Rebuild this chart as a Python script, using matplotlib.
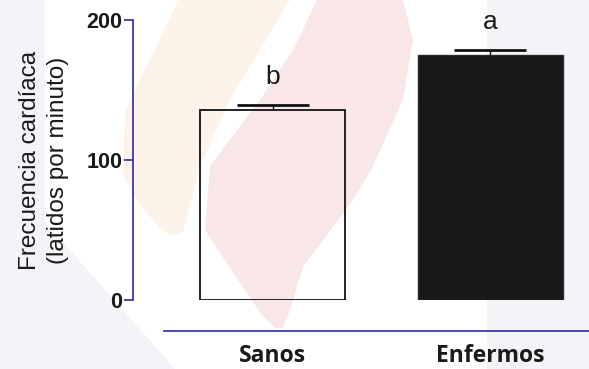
import matplotlib
matplotlib.use("Agg")
import matplotlib.pyplot as plt
from matplotlib.patches import Polygon

# Data
categories = ["Sanos", "Enfermos"]
means = [136.0, 175.0]
sem = [3.3, 3.6]
letters = ["b", "a"]
y_ticks = [0, 100, 200]

W, H = 589, 369
fig = plt.figure(figsize=(W / 100, H / 100), dpi=100)
fig.patch.set_facecolor("white")


def px(points):
    """Pixel coordinates (origin top-left) -> figure fraction."""
    return [(x / W, 1 - y / H) for x, y in points]


# Soft background emblem
background = [
    ("#f3f4f7", [(487, 0), (589, 0), (589, 369), (487, 369)]),
    ("#f3f4f7", [(0, 0), (45, 0), (45, 222), (175, 369), (0, 369)]),
    ("#fdf3e9", [(178, 0), (290, 0), (230, 100), (200, 166), (183, 232),
                 (172, 236), (160, 228), (140, 205), (123, 175), (125, 110),
                 (150, 60)]),
    ("#f9e6e7", [(317, 0), (403, 0), (413, 40), (403, 100), (373, 166),
                 (353, 200), (303, 267), (290, 310), (283, 328), (275, 328),
                 (262, 315), (240, 283), (205, 230), (210, 166), (260, 100),
                 (293, 50)]),
]
for color, pts in background:
    fig.add_artist(Polygon(px(pts), closed=True, transform=fig.transFigure,
                           facecolor=color, edgecolor="none", zorder=-10))

ax = fig.add_axes([133 / W, (H - 300) / H, (W - 133) / W, 280 / H])
ax.patch.set_alpha(0)

x = list(range(len(categories)))
bar_w = 0.668
cap_w = 0.332
ax.bar(x[0], means[0], width=bar_w, facecolor="none", edgecolor="#111111",
       linewidth=1.3, zorder=2)
ax.bar(x[1], means[1], width=bar_w, facecolor="#181818", edgecolor="#2a2a2a",
       linewidth=1.0, zorder=2)

# Upper error bars (SEM): stem from bar top plus a horizontal cap
tops = [m + s for m, s in zip(means, sem)]
ax.vlines(x, means, tops, colors="#111111", linewidth=1.0, zorder=3)
ax.hlines(tops, [xi - cap_w / 2 for xi in x], [xi + cap_w / 2 for xi in x],
          colors="#111111", linewidth=2.0, zorder=3)

for xi, t, lab in zip(x, tops, letters):
    ax.annotate(lab, xy=(xi, t), xytext=(0, 15), textcoords="offset points",
                ha="center", va="baseline", fontsize=19,
                family="Liberation Sans", color="#1a1a1a")

axis_blue = "#2b2b9c"
ax.set_xlim(-0.645, 1.456)
ax.set_ylim(0, 200)

for side in ("top", "right"):
    ax.spines[side].set_visible(False)
ax.spines["left"].set_bounds(0, 200)
ax.spines["left"].set_color(axis_blue)
ax.spines["left"].set_linewidth(1.2)
ax.spines["bottom"].set_position(("outward", 22.5))
ax.spines["bottom"].set_bounds(-0.502, 1.456)
ax.spines["bottom"].set_color(axis_blue)
ax.spines["bottom"].set_linewidth(1.2)

ax.set_yticks(y_ticks)
ax.set_yticklabels([str(t) for t in y_ticks], fontsize=15.5, fontweight="bold",
                   family="Liberation Sans", color="#1a1a1a")
ax.tick_params(axis="y", length=6.5, width=1.2, color=axis_blue, pad=1.2)

ax.set_xticks(x)
ax.set_xticklabels(categories, fontsize=16.5, fontweight="bold",
                   family="Open Sans", color="#1a1a1a")
ax.tick_params(axis="x", length=0, pad=9.5)

ax.set_ylabel("Frecuencia cardíaca\n(latidos por minuto)", fontsize=17.5,
              family="Liberation Sans", color="#1a1a1a", linespacing=1.3)
ax.yaxis.label.set_verticalalignment("center")
ax.yaxis.set_label_coords((44 - 133) / (W - 133), 0.5)

fig.savefig("out.png", dpi=100)
